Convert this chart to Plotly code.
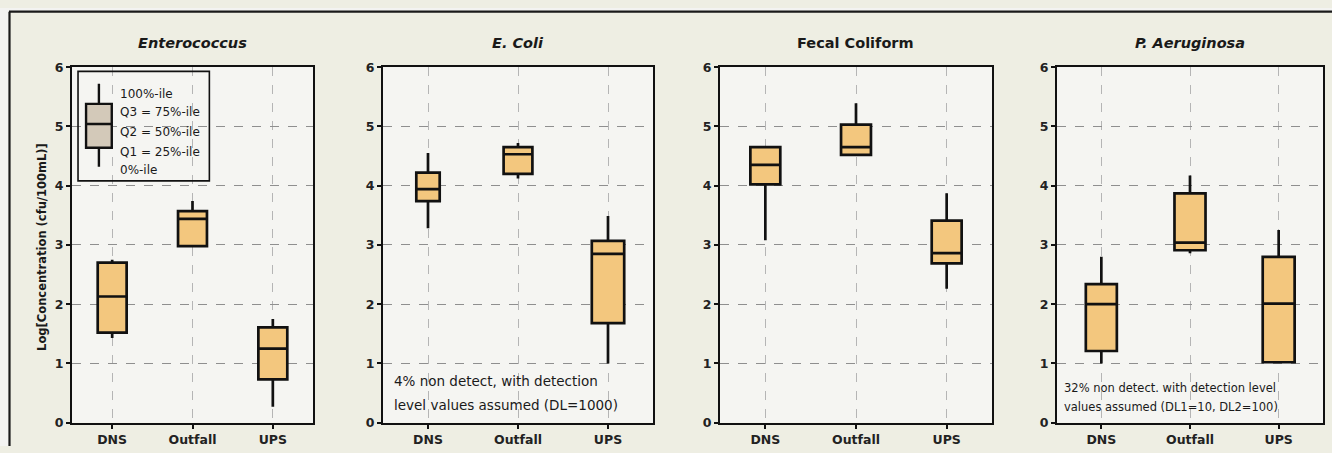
import plotly.graph_objects as go

# ---------------- data ----------------
categories = ["DNS", "Outfall", "UPS"]
panel_titles = ["<i>Enterococcus</i>", "<i>E. Coli</i>", "Fecal Coliform", "<i>P. Aeruginosa</i>"]

# five-number summaries per panel, in category order
entero_min = [1.43, 2.97, 0.27]
entero_q1 = [1.52, 2.98, 0.73]
entero_med = [2.13, 3.44, 1.25]
entero_q3 = [2.70, 3.57, 1.61]
entero_max = [2.75, 3.74, 1.75]

ecoli_min = [3.28, 4.12, 1.00]
ecoli_q1 = [3.74, 4.20, 1.68]
ecoli_med = [3.94, 4.53, 2.85]
ecoli_q3 = [4.22, 4.65, 3.07]
ecoli_max = [4.55, 4.72, 3.49]

fecal_min = [3.08, 4.50, 2.26]
fecal_q1 = [4.02, 4.52, 2.69]
fecal_med = [4.35, 4.65, 2.86]
fecal_q3 = [4.65, 5.03, 3.41]
fecal_max = [4.67, 5.39, 3.87]

paer_min = [1.00, 2.86, 1.00]
paer_q1 = [1.21, 2.91, 1.02]
paer_med = [2.00, 3.04, 2.01]
paer_q3 = [2.34, 3.87, 2.80]
paer_max = [2.80, 4.17, 3.25]

# legend key (illustrative box in the first panel)
legend_key = [4.32, 4.64, 5.04, 5.38, 5.72]
legend_labels = ["100%-ile", "Q3 = 75%-ile", "Q2 = 50%-ile", "Q1 = 25%-ile", "0%-ile"]

ecoli_note = ["4% non detect, with detection", "level values assumed (DL=1000)"]
paer_note = ["32% non detect. with detection level", "values assumed (DL1=10, DL2=100)"]

y_title = "Log[Concentration (cfu/100mL)]"

# ---------------- styles ----------------
W, H = 1332, 453
PAPER = "#eeeee3"
PLOTBG = "#f5f5f2"
FILL = "#f3c77e"
KEYFILL = "#d3c9b9"
FONT = "DejaVu Sans"

# vertical calibration of the rendered page (observed = OFF + SCALE * layout px)
V_OFF, V_SCALE = 6.8, 0.968


def py(y_px):
    """paper fraction for a target pixel row"""
    return 1 - ((y_px - V_OFF) / V_SCALE) / H


# panel pixel extents
px_x = [(72, 313), (383, 653), (720, 992), (1057, 1323)]
px_y = (66, 422)
box_widths = [[0.36, 0.36, 0.36], [0.26, 0.32, 0.36], [0.33, 0.33, 0.33], [0.35, 0.35, 0.36]]

panels = [
    (entero_min, entero_q1, entero_med, entero_q3, entero_max),
    (ecoli_min, ecoli_q1, ecoli_med, ecoli_q3, ecoli_max),
    (fecal_min, fecal_q1, fecal_med, fecal_q3, fecal_max),
    (paer_min, paer_q1, paer_med, paer_q3, paer_max),
]

fig = go.Figure()
ydom = [py(px_y[1]), py(px_y[0])]

layout = dict(
    width=W, height=H, margin=dict(l=0, r=0, t=0, b=0),
    paper_bgcolor=PAPER, plot_bgcolor=PLOTBG, showlegend=False,
    font=dict(family=FONT, color="#1a1a1a"),
)

annotations = []
shapes = []

for i, (stats, (x0, x1)) in enumerate(zip(panels, px_x)):
    sfx = "" if i == 0 else str(i + 1)
    xa, ya = "x" + sfx, "y" + sfx
    mn, q1, md, q3, mx = stats
    for j, cat in enumerate(categories):
        fig.add_trace(go.Box(
            x=[j], q1=[q1[j]], median=[md[j]], q3=[q3[j]],
            lowerfence=[mn[j]], upperfence=[mx[j]],
            width=box_widths[i][j], whiskerwidth=0,
            fillcolor=FILL, line=dict(color="#111111", width=2.7),
            boxpoints=False, hoverinfo="skip",
            xaxis=xa, yaxis=ya,
        ))
    layout["xaxis" + sfx] = dict(
        domain=[x0 / W, x1 / W], range=[-0.5, 2.5], anchor=ya,
        tickmode="array", tickvals=[0, 1, 2], ticktext=categories,
        showline=True, mirror=True, linecolor="#111111", linewidth=2,
        ticks="outside", ticklen=4, tickwidth=2, tickcolor="#111111",
        showgrid=True, gridcolor="#b5b5b5", griddash="dash", gridwidth=1,
        zeroline=False,
        tickfont=dict(family=FONT, size=12.5, weight="bold", color="#222222"),
        fixedrange=True,
    )
    layout["yaxis" + sfx] = dict(
        domain=ydom, range=[0, 6], anchor=xa, dtick=1,
        showline=True, mirror=True, linecolor="#111111", linewidth=2,
        ticks="outside", ticklen=4, tickwidth=2, tickcolor="#111111",
        showgrid=True, gridcolor="#8f8f8f", griddash="dash", gridwidth=1,
        zeroline=False,
        tickfont=dict(family=FONT, size=12.5, weight="bold", color="#222222"),
        fixedrange=True,
    )
    annotations.append(dict(
        x=(x0 + x1) / 2 / W, y=py(42), xref="paper", yref="paper",
        text="<b>" + panel_titles[i] + "</b>", showarrow=False,
        font=dict(family=FONT, size=14.5, color="#1a1a1a"),
        xanchor="center", yanchor="middle",
    ))

# legend key box in panel 1
fig.add_trace(go.Box(
    x=[-0.165], lowerfence=[legend_key[0]], q1=[legend_key[1]], median=[legend_key[2]],
    q3=[legend_key[3]], upperfence=[legend_key[4]],
    width=0.32, whiskerwidth=0, fillcolor=KEYFILL,
    line=dict(color="#111111", width=2.4), boxpoints=False, hoverinfo="skip",
    xaxis="x", yaxis="y",
))
shapes.append(dict(type="rect", xref="x domain", yref="y domain",
                   x0=0.025, x1=0.57, y0=0.68, y1=0.988,
                   line=dict(color="#111111", width=1.6), fillcolor="rgba(0,0,0,0)"))
key_y = [0.924, 0.874, 0.818, 0.760, 0.712]
for lab, yy in zip(legend_labels, key_y):
    annotations.append(dict(
        x=0.19, y=yy, xref="x domain", yref="y domain", text=lab,
        showarrow=False, xanchor="left", yanchor="middle",
        font=dict(family=FONT, size=12, color="#1a1a1a"),
    ))

# notes
for line, yy in zip(ecoli_note, [0.118, 0.051]):
    annotations.append(dict(
        x=0.033, y=yy, xref="x2 domain", yref="y2 domain", text=line,
        showarrow=False, xanchor="left", yanchor="middle",
        font=dict(family=FONT, size=13.5, color="#1a1a1a"),
    ))
for line, yy in zip(paer_note, [0.098, 0.043]):
    annotations.append(dict(
        x=0.02, y=yy, xref="x4 domain", yref="y4 domain", text=line,
        showarrow=False, xanchor="left", yanchor="middle",
        font=dict(family=FONT, size=11.5, color="#1a1a1a"),
    ))

# y axis title
annotations.append(dict(
    x=42 / W, y=py(246), xref="paper", yref="paper",
    text="<b>" + y_title + "</b>", textangle=-90, showarrow=False,
    font=dict(family=FONT, size=11.5, color="#1a1a1a"),
    xanchor="center", yanchor="middle",
))

# outer frame: light strip outside and dark border on top/left
top_line = py(10.5)
shapes.append(dict(type="rect", xref="paper", yref="paper", x0=0, x1=1,
                   y0=top_line, y1=1, line=dict(width=0), fillcolor="#f3f3f1", layer="below"))
shapes.append(dict(type="rect", xref="paper", yref="paper", x0=0, x1=9 / W,
                   y0=0, y1=1, line=dict(width=0), fillcolor="#f3f3f1", layer="below"))
shapes.append(dict(type="line", xref="paper", yref="paper", x0=9 / W, x1=1,
                   y0=top_line, y1=top_line, line=dict(color="#1a1a1a", width=2.2)))
shapes.append(dict(type="line", xref="paper", yref="paper", x0=9.5 / W, x1=9.5 / W,
                   y0=0, y1=top_line, line=dict(color="#1a1a1a", width=2.2)))

layout["annotations"] = annotations
layout["shapes"] = shapes
fig.update_layout(**layout)

fig.write_html(
    "out.html",
    config={"displayModeBar": False},
    post_script=(
        "document.body.style.margin='0';"
        "document.body.style.overflow='hidden';"
        "document.body.style.background='" + PAPER + "';"
    ),
)
